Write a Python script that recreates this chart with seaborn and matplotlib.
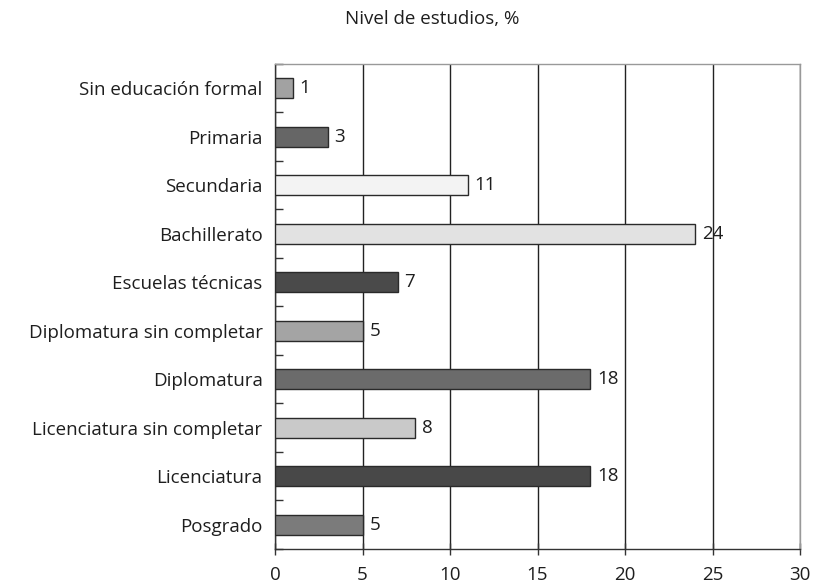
import matplotlib
matplotlib.use("Agg")
import matplotlib.pyplot as plt
import seaborn as sns
import pandas as pd

sns.set_theme(style="white")
plt.rcParams['font.family'] = ['Open Sans', 'DejaVu Sans']

# data
categorias = ['Sin educación formal', 'Primaria', 'Secundaria', 'Bachillerato',
              'Escuelas técnicas', 'Diplomatura sin completar', 'Diplomatura',
              'Licenciatura sin completar', 'Licenciatura', 'Posgrado']
valores = [1, 3, 11, 24, 7, 5, 18, 8, 18, 5]
grises = ['#a2a2a2', '#666666', '#f3f3f3', '#e2e2e2', '#4a4a4a',
          '#a4a4a4', '#6b6b6b', '#c9c9c9', '#484848', '#7b7b7b']

df = pd.DataFrame({'categoria': categorias, 'valor': valores})

fig = plt.figure(figsize=(8.13, 5.85), dpi=100)
ax = fig.add_axes([275 / 813, 1 - 549 / 585, 525 / 813, (549 - 64) / 585])

sns.barplot(data=df, y='categoria', x='valor', hue='categoria', palette=grises,
            legend=False, orient='h', width=0.42, edgecolor='#2a2a2a',
            linewidth=1.0, ax=ax, zorder=3)

ax.set_xlim(0, 30)
ax.set_ylim(len(categorias) - 0.5, -0.5)
ax.set_xticks(range(0, 31, 5))
ax.xaxis.grid(True, color='#222222', linewidth=1.0, zorder=0)
ax.yaxis.grid(False)
ax.set_xlabel('')
ax.set_ylabel('')

fs = 13.5
texto = '#1e1e1e'

# category boundaries as ticks on the y axis
ax.set_yticks([i + 0.5 for i in range(-1, len(categorias))], minor=True)
ax.tick_params(axis='y', which='minor', direction='in', length=6, width=1,
               color='#333333', left=True)
ax.tick_params(axis='y', which='major', length=0, labelsize=fs, pad=9,
               labelcolor=texto)
ax.tick_params(axis='x', which='major', direction='inout', length=8, width=1,
               color='#333333', bottom=True, labelsize=fs, pad=8,
               labelcolor=texto)

for side in ['left', 'bottom']:
    ax.spines[side].set_color('#333333')
    ax.spines[side].set_linewidth(1.0)
for side in ['top', 'right']:
    ax.spines[side].set_color('#999999')
    ax.spines[side].set_linewidth(1.0)

for cont in ax.containers:
    ax.bar_label(cont, fmt='%d', padding=5, fontsize=fs, color=texto)

fig.text(432 / 813, 1 - 19 / 585, 'Nivel de estudios, %', ha='center', va='center',
         fontsize=fs, color=texto)

fig.savefig('out.png', dpi=100)
